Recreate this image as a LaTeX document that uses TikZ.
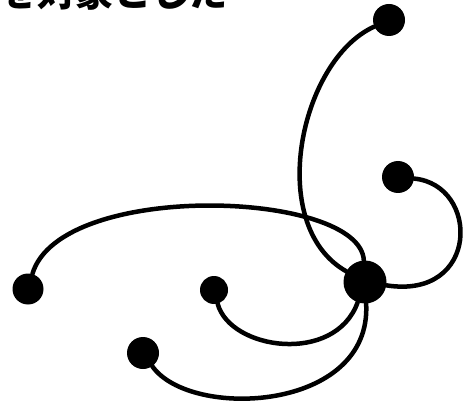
\documentclass[tikz,border=0pt]{standalone}
\usepackage{fontspec}
\usepackage{tikz}
\usetikzlibrary{positioning}
\newfontfamily\cjkfont{Noto Sans CJK JP}

\begin{document}
\begin{tikzpicture}[x=1pt, y=-1pt,
  dot/.style={circle, fill=black, inner sep=0pt, minimum size=#1},
  link/.style={line width=4.5pt, line cap=round}
]
  \useasboundingbox (0,0) rectangle (465,403);

  % caption (cut by the top edge)
  \node[anchor=base west, inner sep=0pt] (cap) at (-1,7)
    {\cjkfont\bfseries\fontsize{38}{40}\selectfont を対象とした};

  % dots
  \node[dot=43pt] (hub) at (365,282) {};
  \node[dot=32pt] (top) at (389,20) {};
  \node[dot=32pt] (right) at (398,177) {};
  \node[dot=31pt] (left) at (28,289) {};
  \node[dot=28pt] (mid) at (214,290) {};
  \node[dot=32pt] (bottom) at (143,353) {};

  % links into the hub
  \draw[link] (top) .. controls (300,60) and (265,225) .. (hub);
  \draw[link] (right) .. controls (480,185) and (480,300) .. (hub);
  \draw[link] (left) .. controls (60,180) and (360,190) .. (hub);
  \draw[link] (mid) .. controls (230,350) and (335,365) .. (hub);
  \draw[link] (bottom) .. controls (190,420) and (372,412) .. (hub);
\end{tikzpicture}
\end{document}
